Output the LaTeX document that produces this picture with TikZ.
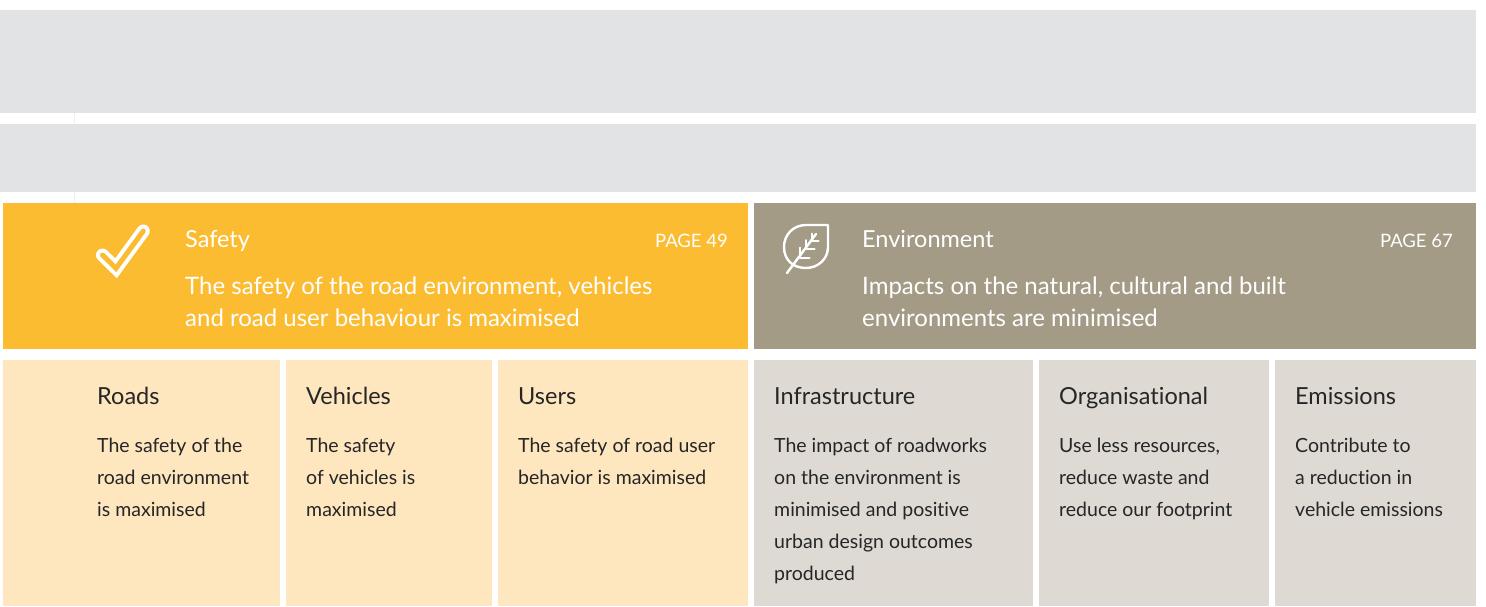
\documentclass[tikz,border=0pt]{standalone}
\usepackage{fontspec}
\setmainfont{Lato}[Ligatures=NoCommon]
\usetikzlibrary{calc}
\definecolor{bandgrey}{RGB}{226,227,229}
\definecolor{safetyorange}{RGB}{252,188,49}
\definecolor{safetylight}{RGB}{254,230,191}
\definecolor{envbrown}{RGB}{163,155,134}
\definecolor{envlight}{RGB}{222,218,211}
\definecolor{textdark}{RGB}{38,38,38}
% multi-line nodes sit on the baseline of their last line
\tikzset{
	boxtitle/.style={anchor=base west, inner sep=0pt, text=textdark, font=\fontsize{23.5}{28}\selectfont},
	boxbody/.style={anchor=base west, inner sep=0pt, text=textdark, align=left, font=\fontsize{19.5}{32}\selectfont},
	headtitle/.style={anchor=base west, inner sep=0pt, text=white, font=\fontsize{23.5}{28}\selectfont},
	headsub/.style={anchor=base west, inner sep=0pt, text=white, align=left, font=\fontsize{24}{32}\selectfont},
	pagetag/.style={anchor=base east, inner sep=0pt, text=white, font=\fontsize{18.5}{20}\selectfont}
}

\begin{document}
\begin{tikzpicture}[x=1pt, y=-1pt]
		%%%%% START %%%%%
		\useasboundingbox (0, 0) rectangle (1486, 606);
		\fill[white] (0, 0) rectangle (1486, 606);
		
		\fill[bandgrey] (0, 10) rectangle (1476, 113);
		\fill[bandgrey] (0, 124) rectangle (1476, 192);
		\draw[black!6, line width=1pt] (74, 113) -- (74, 124);
		\draw[black!6, line width=1pt] (74, 192) -- (74, 203);
		
		\fill[safetyorange] (3, 203) rectangle (748, 349);
		\fill[envbrown] (754, 203) rectangle (1476, 349);
		
		\fill[safetylight] (3, 360) rectangle (280, 606);
		\fill[safetylight] (286, 360) rectangle (492, 606);
		\fill[safetylight] (498, 360) rectangle (748, 606);
		\fill[envlight] (754, 360) rectangle (1033, 606);
		\fill[envlight] (1039, 360) rectangle (1269, 606);
		\fill[envlight] (1275, 360) rectangle (1476, 606);
		
		% tick
		\draw[white, line width=13pt, line cap=round, line join=miter] (102.5, 255) -- (116, 268.3) -- (143.3, 231);
		\draw[safetyorange, line width=5pt, line cap=round, line join=miter] (102.5, 255) -- (116, 268.3) -- (143.3, 231);
		
		% leaf
		\draw[white, line width=2.4pt, line join=round] (828, 225) -- (806, 225) .. controls (793, 225) and (784, 235) .. (784, 247) .. controls (784, 260) and (793, 268) .. (806, 268) .. controls (818, 268) and (828, 259) .. (828, 247) -- cycle;
		\draw[white, line width=2.4pt, line cap=round] (787, 273) -- (816, 234);
		\draw[white, line width=2pt, line cap=round] (799.5, 257.6) -- (799.5, 247.6) (799.5, 257.6) -- (809.5, 257.6);
		\draw[white, line width=2pt, line cap=round] (805.5, 249) -- (805.5, 240) (805.5, 249) -- (814.5, 249);
		\draw[white, line width=2pt, line cap=round] (811.5, 240.5) -- (811.5, 233.5) (811.5, 240.5) -- (818.5, 240.5);
		
		\node[headtitle] (safetytitle) at (185, 247) {Safety};
		\node[pagetag] (safetypage) at (728, 247) {PAGE 49};
		\node[headsub] (safetysub) at (185, 326) {The safety of the road environment, vehicles\\and road user behaviour is maximised};
		
		\node[headtitle] (envtitle) at (862, 247) {Environment};
		\node[pagetag] (envpage) at (1453, 247) {PAGE 67};
		\node[headsub] (envsub) at (862, 326) {Impacts on the natural, cultural and built\\environments are minimised};
		
		\node[boxtitle] (roadstitle) at (97, 404) {Roads};
		\node[boxbody] (roadsbody) at (97, 516) {The safety of the\\road environment\\is maximised};
		
		\node[boxtitle] (vehiclestitle) at (306, 404) {Vehicles};
		\node[boxbody] (vehiclesbody) at (306, 516) {The safety\\of vehicles is\\maximised};
		
		\node[boxtitle] (userstitle) at (518, 404) {Users};
		\node[boxbody] (usersbody) at (518, 484) {The safety of road user\\behavior is maximised};
		
		\node[boxtitle] (infratitle) at (774, 404) {Infrastructure};
		\node[boxbody] (infrabody) at (774, 580) {The impact of roadworks\\on the environment is\\minimised and positive\\urban design outcomes\\produced};
		
		\node[boxtitle] (orgtitle) at (1059, 404) {Organisational};
		\node[boxbody] (orgbody) at (1059, 516) {Use less resources,\\reduce waste and\\reduce our footprint};
		
		\node[boxtitle] (emissionstitle) at (1295, 404) {Emissions};
		\node[boxbody] (emissionsbody) at (1295, 516) {Contribute to\\a reduction in\\vehicle emissions};
		%%%%% END %%%%%
\end{tikzpicture}
\end{document}
